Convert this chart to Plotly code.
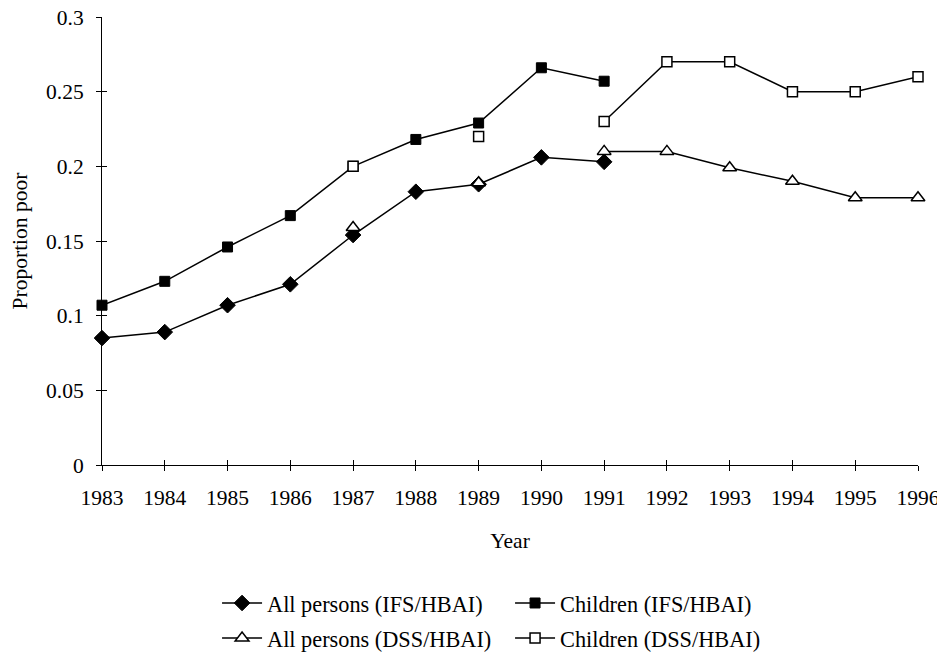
import plotly.graph_objects as go

years = list(range(1983, 1997))
all_ifs = [0.085, 0.089, 0.107, 0.121, 0.154, 0.183, 0.188, 0.206, 0.203,
           None, None, None, None, None]
child_ifs = [0.107, 0.123, 0.146, 0.167, 0.200, 0.218, 0.229, 0.266, 0.257,
             None, None, None, None, None]
all_dss = [None, None, None, None, 0.159, None, 0.189, None, 0.21,
           0.21, 0.199, 0.19, 0.179, 0.179]
child_dss = [None, None, None, None, 0.20, None, 0.22, None, 0.23,
             0.27, 0.27, 0.25, 0.25, 0.26]
names = ["All persons (IFS/HBAI)", "Children (IFS/HBAI)",
         "All persons (DSS/HBAI)", "Children (DSS/HBAI)"]
y_ticks = [0, 0.05, 0.1, 0.15, 0.2, 0.25, 0.3]
y_tick_text = ["0", "0.05", "0.1", "0.15", "0.2", "0.25", "0.3"]

FONT = "Liberation Serif"
FS = 21.5
LFS = 22.3
fig = go.Figure()

styles = [
    dict(symbol="diamond", size=12, color="black", line=dict(color="black", width=1)),
    dict(symbol="square", size=10, color="black", line=dict(color="black", width=1)),
    dict(symbol="triangle-up", size=12, color="white", line=dict(color="black", width=1.5)),
    dict(symbol="square", size=10, color="white", line=dict(color="black", width=1.5)),
]
series = [all_ifs, child_ifs, all_dss, child_dss]
legends = ["legend", "legend", "legend2", "legend2"]
for s, n, st, lg in zip(series, names, styles, legends):
    fig.add_trace(go.Scatter(
        x=years, y=s, name=n, mode="lines+markers",
        line=dict(color="black", width=1.5),
        marker=st, connectgaps=False, cliponaxis=False, legend=lg,
    ))

# dummy trace for crossing tick overlay axes
fig.add_trace(go.Scatter(x=[1983], y=[0], xaxis="x2", yaxis="y2",
                         mode="markers", marker=dict(opacity=0),
                         showlegend=False, hoverinfo="skip"))

axis_common = dict(showgrid=False, zeroline=False, showline=True,
                   linecolor="black", linewidth=1, tickcolor="black",
                   ticklen=5, tickwidth=1, automargin=False,
                   ticklabeloverflow="allow",
                   tickfont=dict(family=FONT, size=FS, color="black"))

legend_common = dict(orientation="h", x=0.141, xanchor="left", yref="container",
                     yanchor="middle", font=dict(family=FONT, size=LFS),
                     itemwidth=40, traceorder="normal", entrywidth=238,
                     entrywidthmode="pixels", bgcolor="rgba(0,0,0,0)")

fig.update_layout(
    width=937, height=644,
    margin=dict(l=94, r=27, t=9, b=187),
    paper_bgcolor="white", plot_bgcolor="white",
    font=dict(family=FONT, size=FS, color="black"),
    xaxis=dict(range=[1983, 1996], tickmode="array", tickvals=years,
               ticks="outside", ticklabelstandoff=8,
               title=dict(text="Year", font=dict(family=FONT, size=FS), standoff=24),
               **axis_common),
    yaxis=dict(range=[0, 0.3], tickmode="array", tickvals=y_ticks,
               ticktext=y_tick_text, ticks="outside", ticklabelstandoff=8,
               title=dict(text="Proportion poor", font=dict(family=FONT, size=FS), standoff=24),
               **axis_common),
    xaxis2=dict(range=[1983, 1996], tickmode="array", tickvals=years,
                ticks="inside", overlaying="x", anchor="y2", showticklabels=False,
                **axis_common),
    yaxis2=dict(range=[0, 0.3], tickmode="array", tickvals=y_ticks,
                ticks="inside", overlaying="y", anchor="x2", showticklabels=False,
                **axis_common),
    legend=dict(y=0.0761, **legend_common),
    legend2=dict(y=0.0217, **legend_common),
    showlegend=True,
)

fig.write_html("out.html")
